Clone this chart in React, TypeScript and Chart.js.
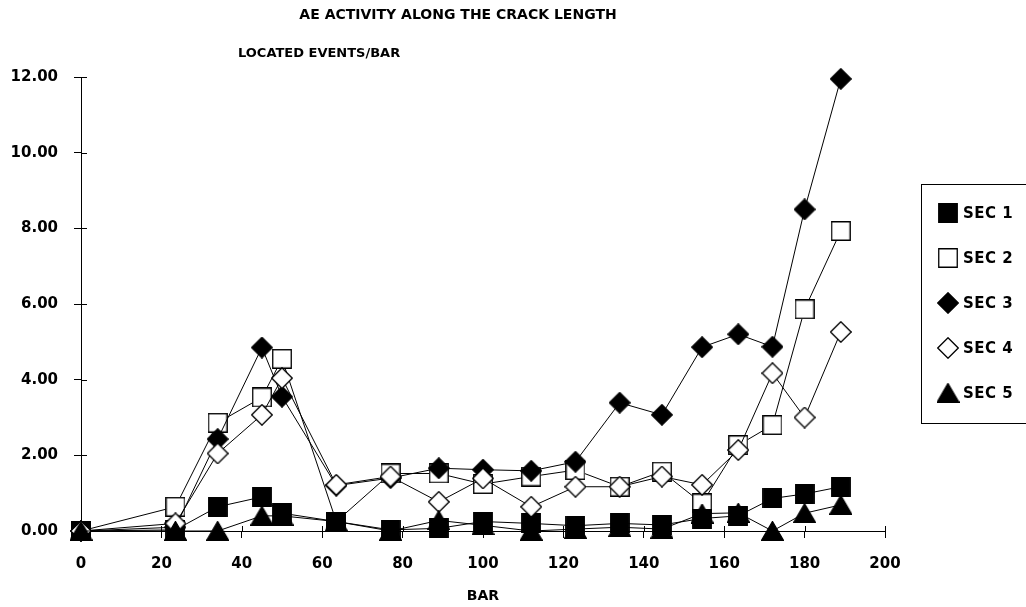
import React, { useEffect, useRef } from "react";
import { Chart, registerables } from "chart.js";

Chart.register(...registerables);

// Positions along the crack (BAR number) at which events were counted
const barPositions = [0, 23.5, 34, 45, 50, 63.5, 77, 89, 100, 112, 123, 134, 144.5, 154.5, 163.5, 172, 180, 189];

// Located events per bar, one list per section
const sec1 = [0, 0.03, 0.64, 0.9, 0.47, 0.25, 0.03, 0.07, 0.25, 0.2, 0.14, 0.2, 0.16, 0.33, 0.4, 0.86, 0.98, 1.17];
const sec2 = [0, 0.64, 2.86, 3.53, 4.55, 0.25, 1.52, 1.52, 1.24, 1.44, 1.61, 1.17, 1.57, 0.73, 2.27, 2.8, 5.86, 7.93];
const sec3 = [0, 0.1, 2.43, 4.85, 3.55, 1.2, 1.4, 1.66, 1.62, 1.59, 1.83, 3.39, 3.07, 4.86, 5.2, 4.87, 8.5, 11.95];
const sec4 = [0, 0.2, 2.05, 3.07, 4.04, 1.22, 1.44, 0.77, 1.39, 0.64, 1.17, 1.17, 1.44, 1.22, 2.14, 4.17, 3.0, 5.26];
const sec5 = [0, 0, 0, 0.4, 0.4, 0.25, 0, 0.28, 0.15, 0, 0.05, 0.1, 0.05, 0.46, 0.48, 0, 0.47, 0.69];

const seriesNames = ["SEC 1", "SEC 2", "SEC 3", "SEC 4", "SEC 5"];

const xTicks = [0, 20, 40, 60, 80, 100, 120, 140, 160, 180, 200];
const yTicks = [0, 2, 4, 6, 8, 10, 12];

const chartTitle = "AE ACTIVITY ALONG THE CRACK LENGTH";
const yAxisTitle = "LOCATED EVENTS/BAR";
const xAxisTitle = "BAR";

const FONT = "'DejaVu Sans', sans-serif";

type Shape = "square" | "diamond" | "triangle";

// Builds a small canvas used as a point marker (centred on its bounding box)
function makeMarker(shape: Shape, filled: boolean): HTMLCanvasElement {
  const c = document.createElement("canvas");
  let w = 20;
  let h = 20;
  if (shape === "diamond") {
    w = 22;
    h = 22;
  } else if (shape === "triangle") {
    w = 23;
    h = 20;
  }
  c.width = w;
  c.height = h;
  const ctx = c.getContext("2d")!;
  ctx.beginPath();
  if (shape === "square") {
    ctx.rect(0.75, 0.75, w - 1.5, h - 1.5);
  } else if (shape === "diamond") {
    ctx.moveTo(w / 2, 0.75);
    ctx.lineTo(w - 0.75, h / 2);
    ctx.lineTo(w / 2, h - 0.75);
    ctx.lineTo(0.75, h / 2);
    ctx.closePath();
  } else {
    ctx.moveTo(w / 2, 0.5);
    ctx.lineTo(w - 0.5, h - 0.5);
    ctx.lineTo(0.5, h - 0.5);
    ctx.closePath();
  }
  ctx.fillStyle = filled ? "#000" : "#fff";
  ctx.fill();
  ctx.strokeStyle = "#000";
  ctx.lineWidth = 1.3;
  ctx.stroke();
  return c;
}

export default function App() {
  const canvasRef = useRef<HTMLCanvasElement | null>(null);

  useEffect(() => {
    const canvas = canvasRef.current;
    if (!canvas) return;

    const markers = [
      makeMarker("square", true),
      makeMarker("square", false),
      makeMarker("diamond", true),
      makeMarker("diamond", false),
      makeMarker("triangle", true),
    ];
    const series = [sec1, sec2, sec3, sec4, sec5];
    // lower order is painted on top
    const drawOrder = [3, 4, 2, 1, 0];

    const datasets = series.map((values, i) => ({
      label: seriesNames[i],
      data: barPositions.map((x, k) => ({ x, y: values[k] })),
      borderColor: "#000",
      borderWidth: 1,
      backgroundColor: "#000",
      pointStyle: markers[i],
      pointRadius: 10,
      tension: 0,
      order: drawOrder[i],
      clip: false as const,
    }));

    // Text headings and the boxed key
    const annotations = {
      id: "annotations",
      afterDraw(chart: any) {
        const ctx = chart.ctx as CanvasRenderingContext2D;
        ctx.save();
        ctx.fillStyle = "#000";
        ctx.textBaseline = "middle";
        ctx.font = `bold 14px ${FONT}`;
        ctx.textAlign = "center";
        ctx.fillText(chartTitle, 458, 15);
        ctx.font = `bold 13px ${FONT}`;
        ctx.textAlign = "left";
        ctx.fillText(yAxisTitle, 238, 54);

        // key box
        ctx.strokeStyle = "#000";
        ctx.lineWidth = 1;
        ctx.strokeRect(921.5, 184.5, 120, 239);
        ctx.font = `bold 15px ${FONT}`;
        (ctx as any).letterSpacing = "0.5px";
        seriesNames.forEach((name, i) => {
          const y = 213 + i * 45;
          const m = markers[i];
          ctx.drawImage(m, 948 - m.width / 2, y - m.height / 2);
          ctx.fillText(name, 963, y + 1);
        });
        ctx.restore();
      },
    };

    // Inner halves of the tick marks, so every tick crosses its axis
    const innerTicks = {
      id: "innerTicks",
      afterDraw(chart: any) {
        const ctx = chart.ctx as CanvasRenderingContext2D;
        const { left, bottom } = chart.chartArea;
        ctx.save();
        ctx.strokeStyle = "#000";
        ctx.lineWidth = 1;
        ctx.beginPath();
        chart.scales.y.ticks.forEach((t: any) => {
          const py = Math.round(chart.scales.y.getPixelForValue(t.value)) + 0.5;
          ctx.moveTo(left, py);
          ctx.lineTo(left + 6, py);
        });
        chart.scales.x.ticks.forEach((t: any) => {
          const px = Math.round(chart.scales.x.getPixelForValue(t.value)) + 0.5;
          ctx.moveTo(px, bottom);
          ctx.lineTo(px, bottom - 5);
        });
        ctx.stroke();
        ctx.restore();
      },
    };

    const chart = new Chart(canvas, {
      type: "line",
      data: { datasets },
      options: {
        animation: false,
        responsive: false,
        devicePixelRatio: 1,
        events: [],
        layout: { padding: { left: 0, right: 141, top: 77, bottom: 0 } },
        plugins: {
          legend: { display: false },
          title: { display: false },
          tooltip: { enabled: false },
        },
        scales: {
          x: {
            type: "linear",
            min: 0,
            max: 200,
            afterBuildTicks: (scale: any) => {
              scale.ticks = xTicks.map((v) => ({ value: v }));
            },
            afterFit: (scale: any) => {
              scale.height = 76;
            },
            ticks: {
              color: "#000",
              font: { family: FONT, size: 15, weight: "bold" },
              padding: 17,
              maxRotation: 0,
              autoSkip: false,
            },
            grid: {
              drawOnChartArea: false,
              drawTicks: true,
              tickLength: 7,
              color: "#000",
            },
            border: { display: true, color: "#000", width: 1 },
            title: {
              display: true,
              text: xAxisTitle,
              color: "#000",
              font: { family: FONT, size: 14, weight: "bold" },
              padding: { top: 0, bottom: 2 },
            },
          },
          y: {
            type: "linear",
            min: 0,
            max: 12,
            afterBuildTicks: (scale: any) => {
              scale.ticks = yTicks.map((v) => ({ value: v }));
            },
            afterFit: (scale: any) => {
              scale.width = 81;
            },
            ticks: {
              color: "#000",
              font: { family: FONT, size: 15, weight: "bold" },
              padding: 16,
              callback: (v: any) => Number(v).toFixed(2),
            },
            grid: {
              drawOnChartArea: false,
              drawTicks: true,
              tickLength: 7,
              color: "#000",
            },
            border: { display: true, color: "#000", width: 1 },
          },
        },
      },
      plugins: [annotations, innerTicks],
    });

    return () => {
      chart.destroy();
    };
  }, []);

  return (
    <div style={{ position: "fixed", left: 0, top: 0, width: 1026, height: 607, background: "#fff" }}>
      <canvas ref={canvasRef} width={1026} height={607} style={{ display: "block" }} />
    </div>
  );
}
